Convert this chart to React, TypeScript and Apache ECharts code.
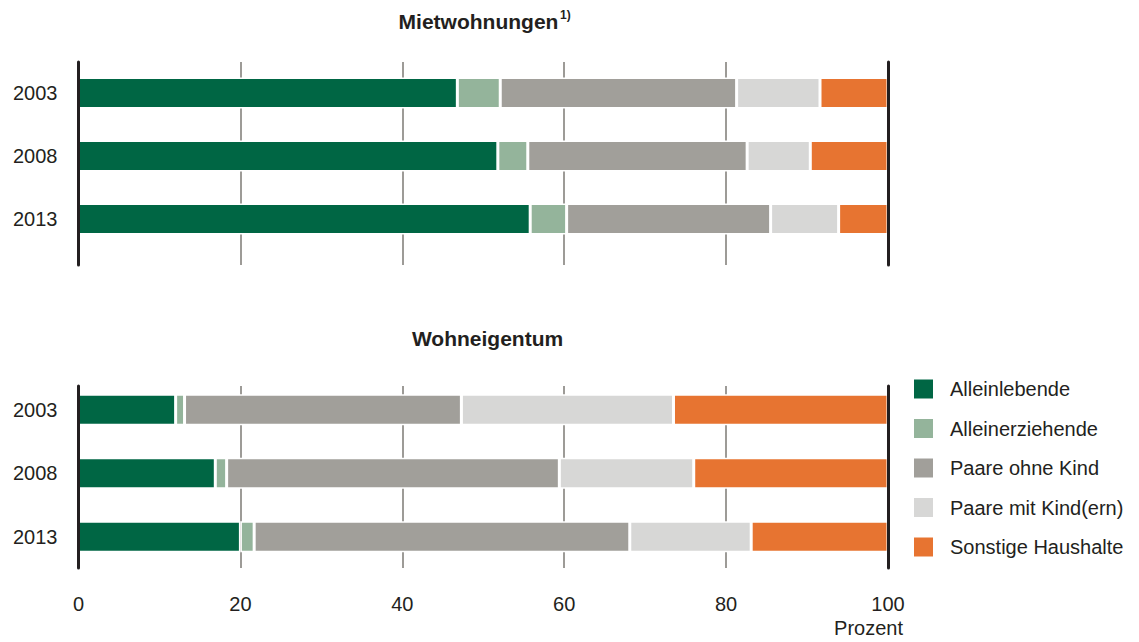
import React, { useEffect, useRef } from "react";
import * as echarts from "echarts";

const years = ["2003", "2008", "2013"];
const seriesNames = [
  "Alleinlebende",
  "Alleinerziehende",
  "Paare ohne Kind",
  "Paare mit Kind(ern)",
  "Sonstige Haushalte",
];
const seriesColors = ["#006644", "#94b49b", "#a19f9a", "#d7d7d6", "#e77431"];

// Mietwohnungen (Prozent)
const mietAlleinlebende = [46.8, 51.8, 55.8];
const mietAlleinerziehende = [5.3, 3.7, 4.5];
const mietPaareOhneKind = [29.2, 27.1, 25.2];
const mietPaareMitKind = [10.3, 7.8, 8.4];
const mietSonstige = [8.4, 9.6, 6.1];

// Wohneigentum (Prozent)
const eigAlleinlebende = [12.0, 16.9, 20.0];
const eigAlleinerziehende = [1.1, 1.4, 1.7];
const eigPaareOhneKind = [34.2, 41.1, 46.4];
const eigPaareMitKind = [26.2, 16.6, 15.0];
const eigSonstige = [26.5, 24.0, 16.9];

const xTicks = [0, 20, 40, 60, 80, 100];

const FONT = "'Liberation Sans', Arial, sans-serif";
const TXT = "#231f20";

export default function App() {
  const ref = useRef<HTMLDivElement>(null);

  useEffect(() => {
    if (!ref.current) return;
    const chart = echarts.init(ref.current, undefined, { renderer: "svg" });

    const miet = [mietAlleinlebende, mietAlleinerziehende, mietPaareOhneKind, mietPaareMitKind, mietSonstige];
    const eig = [eigAlleinlebende, eigAlleinerziehende, eigPaareOhneKind, eigPaareMitKind, eigSonstige];

    const barSeries = (data: number[][], stack: string, xi: number, yi: number) =>
      data.map((d, i) => ({
        type: "bar",
        name: seriesNames[i],
        stack,
        xAxisIndex: xi,
        yAxisIndex: yi,
        barWidth: 31,
        data: d,
        itemStyle: { color: seriesColors[i], borderColor: "#ffffff", borderWidth: 1.5 },
        emphasis: { disabled: true },
      }));

    const left = 78.5;
    const width = 809.5;

    const lineY = (gridIndex: number, position: string) => ({
      type: "value",
      gridIndex,
      position,
      min: 0,
      max: 1,
      z: 10,
      axisLine: { show: true, onZero: false, lineStyle: { color: TXT, width: 3 } },
      axisTick: { show: false },
      axisLabel: { show: false },
      splitLine: { show: false },
    });

    const catY = (gridIndex: number) => ({
      type: "category",
      gridIndex,
      data: years,
      inverse: true,
      axisLine: { show: false },
      axisTick: { show: false },
      axisLabel: { margin: 21, fontSize: 20, color: TXT, fontFamily: FONT },
    });

    const gridX = (gridIndex: number, labels: boolean) => ({
      type: "value",
      gridIndex,
      min: xTicks[0],
      max: xTicks[xTicks.length - 1],
      interval: 20,
      axisLine: { show: false },
      axisTick: { show: false },
      axisLabel: labels
        ? { show: true, margin: 26, fontSize: 20, color: TXT, fontFamily: FONT }
        : { show: false },
      splitLine: { show: true, lineStyle: { color: "#9d9b97", width: 2 } },
    });

    const hiddenX = (gridIndex: number) => ({
      type: "value",
      gridIndex,
      min: 0,
      max: 100,
      show: false,
      splitLine: { show: false },
    });

    chart.setOption({
      animation: false,
      grid: [
        { left, width, top: 62, height: 203 },
        { left, width, top: 61.5, height: 189 },
        { left, width, top: 386, height: 182 },
        { left, width, top: 378, height: 190.5 },
      ],
      xAxis: [gridX(0, false), hiddenX(1), gridX(2, true), hiddenX(3)],
      yAxis: [
        lineY(0, "left"),
        lineY(0, "right"),
        catY(1),
        lineY(2, "left"),
        lineY(2, "right"),
        catY(3),
      ],
      legend: {
        data: seriesNames,
        orient: "vertical",
        left: 914,
        top: 379,
        padding: 0,
        itemWidth: 19,
        itemHeight: 19,
        itemGap: 19.5,
        icon: "rect",
        selectedMode: false,
        itemStyle: { borderWidth: 0 },
        textStyle: { fontSize: 20, color: TXT, fontFamily: FONT, padding: [0, 0, 0, 12] },
      },
      graphic: [
        {
          type: "text",
          x: 478.5,
          y: 21,
          style: {
            text: "Mietwohnungen",
            fontSize: 21,
            fontWeight: "bold",
            fontFamily: FONT,
            fill: TXT,
            align: "center",
            verticalAlign: "middle",
          },
        },
        {
          type: "text",
          x: 560,
          y: 9,
          style: {
            text: "1)",
            fontSize: 12,
            fontWeight: "bold",
            fontFamily: FONT,
            fill: TXT,
            align: "left",
            verticalAlign: "top",
          },
        },
        {
          type: "text",
          x: 487.5,
          y: 338,
          style: {
            text: "Wohneigentum",
            fontSize: 21,
            fontWeight: "bold",
            fontFamily: FONT,
            fill: TXT,
            align: "center",
            verticalAlign: "middle",
          },
        },
        {
          type: "text",
          x: 903,
          y: 628,
          style: {
            text: "Prozent",
            fontSize: 20,
            fontFamily: FONT,
            fill: TXT,
            align: "right",
            verticalAlign: "middle",
          },
        },
      ],
      series: [...barSeries(miet, "miet", 1, 2), ...barSeries(eig, "eig", 3, 5)],
    });

    return () => chart.dispose();
  }, []);

  return (
    <div
      ref={ref}
      style={{ position: "absolute", left: 0, top: 0, width: 1139, height: 642, background: "#ffffff" }}
    />
  );
}
